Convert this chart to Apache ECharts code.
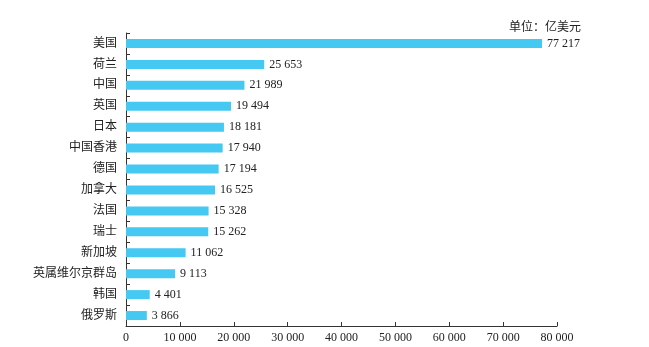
<!DOCTYPE html>
<html>
<head>
<meta charset="utf-8">
<script src="https://cdn.jsdelivr.net/npm/echarts@6/dist/echarts.min.js"></script>
<style>
html,body{margin:0;padding:0;background:#fff;}
#main{width:649px;height:347px;}
</style>
</head>
<body>
<div id="main"></div>
<script>
const categories = ['美国','荷兰','中国','英国','日本','中国香港','德国','加拿大','法国','瑞士','新加坡','英属维尔京群岛','韩国','俄罗斯'];
const values = [77217, 25653, 21989, 19494, 18181, 17940, 17194, 16525, 15328, 15262, 11062, 9113, 4401, 3866];
const xTicks = [0, 10000, 20000, 30000, 40000, 50000, 60000, 70000, 80000];
const unitText = '单位：亿美元';

function fmt(v){
  return String(v).replace(/\B(?=(\d{3})+(?!\d))/g, ' ');
}
const FONT = '"Liberation Serif", "Times New Roman", "Noto Sans CJK SC", serif';
const chart = echarts.init(document.getElementById('main'), null, {renderer:'canvas'});
chart.setOption({
  animation:false,
  backgroundColor:'#fff',
  title:{
    text: unitText,
    right: 63, top: 17,
    textStyle:{fontFamily:FONT, fontSize:12, fontWeight:'normal', color:'#222'}
  },
  grid:{left:126, right:92, top:33, bottom:21, containLabel:false},
  xAxis:{
    type:'value', min:xTicks[0], max:xTicks[xTicks.length-1], interval:10000,
    splitLine:{show:false},
    axisLine:{show:true, lineStyle:{color:'#333', width:1}},
    axisTick:{show:true, inside:true, length:4, lineStyle:{color:'#333'}},
    axisLabel:{fontFamily:FONT, fontSize:12, color:'#222', margin:6, formatter:fmt}
  },
  yAxis:{
    type:'category', data:categories, inverse:true,
    axisLine:{show:true, lineStyle:{color:'#333', width:1}},
    axisTick:{show:true, inside:true, length:4, lineStyle:{color:'#333'}},
    axisLabel:{fontFamily:FONT, fontSize:12, color:'#222', margin:9}
  },
  series:[{
    type:'bar', data:values, barWidth:9,
    itemStyle:{color:'#45C8F2'},
    label:{show:true, position:'right', distance:5, fontFamily:FONT, fontSize:12, color:'#222', formatter:p=>fmt(p.value)}
  }]
});
</script>
</body>
</html>
